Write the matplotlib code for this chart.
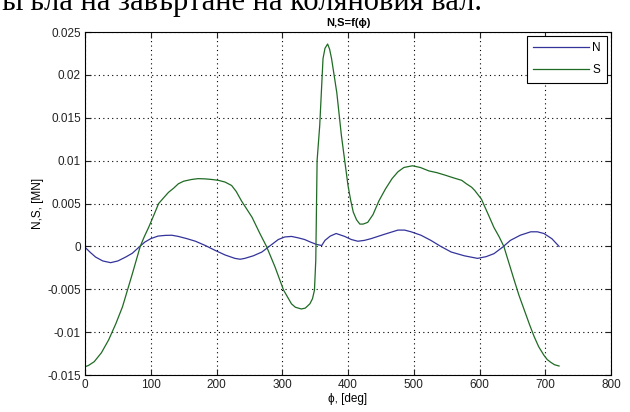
import matplotlib
matplotlib.use("Agg")
import matplotlib.pyplot as plt

# S (green) curve
s_phi = [0, 5, 14, 25, 36, 47, 57, 65, 72, 84, 90, 97, 105, 112, 120, 127, 135, 142, 150,
         162, 172, 183, 193, 203, 213, 223, 230, 238, 254, 266, 276, 289, 302, 314, 320,
         329, 335, 342, 346, 349, 351, 352, 353, 357, 362, 365, 369, 372, 375, 383, 390,
         395, 400, 404, 408, 413, 418, 423, 430, 438, 447, 457, 467, 476, 485, 498, 510,
         523, 535, 548, 560, 573, 580, 588, 593, 598, 603, 607, 614, 622, 630, 637, 645,
         653, 660, 668, 676, 683, 690, 698, 703, 708, 714, 721]
s_val = [-0.01403, -0.0139, -0.01345, -0.0124, -0.0109, -0.0090, -0.00705, -0.0050, -0.0032,
         0.0, 0.0011, 0.00225, 0.0037, 0.005, 0.0057, 0.0063, 0.0068, 0.0073, 0.0076,
         0.0078, 0.0079, 0.00787, 0.0078, 0.0077, 0.0075, 0.0071, 0.0064, 0.0053, 0.0034,
         0.0015, 0.0, -0.0024, -0.0051, -0.0067, -0.0071, -0.0073, -0.0072, -0.0067,
         -0.0061, -0.0051, -0.0016, 0.0042, 0.0100, 0.0141, 0.0219, 0.0231, 0.0236, 0.0230,
         0.0219, 0.0179, 0.0129, 0.0100, 0.0071, 0.0054, 0.0040, 0.0031, 0.0026, 0.0026,
         0.0028, 0.0037, 0.0053, 0.0067, 0.0079, 0.0087, 0.0092, 0.0094, 0.0092, 0.0088,
         0.0086, 0.0083, 0.0080, 0.0077, 0.0073, 0.0069, 0.0065, 0.0060, 0.0055, 0.0048,
         0.0036, 0.0022, 0.0011, 0.0, -0.0020, -0.0040, -0.0057, -0.0074, -0.0091, -0.0105,
         -0.0117, -0.0127, -0.0132, -0.0135, -0.0138, -0.01395]

# N (blue) curve
n_phi = [0, 8, 16, 27, 39, 50, 62, 72, 82, 91, 100, 111, 122, 132, 142, 155, 168, 183,
         198, 213, 228, 236, 243, 256, 269, 282, 294, 304, 314, 324, 334, 343, 352, 360,
         365, 373, 382, 395, 405, 415, 425, 435, 455, 476, 486, 496, 511, 526, 541, 557,
         577, 597, 610, 622, 635, 647, 662, 678, 688, 698, 710, 721]
n_val = [-0.0001, -0.0007, -0.00124, -0.0017, -0.0019, -0.0017, -0.00124, -0.0008, -0.0001,
         0.0005, 0.0009, 0.0012, 0.00128, 0.0013, 0.00116, 0.0009, 0.0006, 0.0001, -0.00047,
         -0.001, -0.0014, -0.0015, -0.0014, -0.0011, -0.00066, 0.0001, 0.0008, 0.0011,
         0.00116, 0.0010, 0.0008, 0.0005, 0.00023, 0.0001, 0.0007, 0.0012, 0.0015, 0.00116,
         0.0008, 0.0006, 0.0007, 0.0009, 0.0014, 0.0019, 0.0019, 0.0017, 0.0013, 0.0007,
         0.0000, -0.00066, -0.0011, -0.0014, -0.0012, -0.00085, -0.0001, 0.0007, 0.0013,
         0.0017, 0.0017, 0.0015, 0.0009, 0.0]

x_ticks = [0, 100, 200, 300, 400, 500, 600, 700, 800]
y_ticks = [-0.015, -0.01, -0.005, 0, 0.005, 0.01, 0.015, 0.02, 0.025]
y_tick_labels = ["-0.015", "-0.01", "-0.005", "0", "0.005", "0.01", "0.015", "0.02", "0.025"]

plt.rcParams['font.family'] = ['Liberation Sans', 'DejaVu Sans']

fig = plt.figure(figsize=(6.30, 4.12), dpi=100)
ax = fig.add_axes([85/630, 1 - 375/412, (611 - 85)/630, (375 - 32)/412])

ax.plot(n_phi, n_val, color='#33339a', lw=0.9, label='N')
ax.plot(s_phi, s_val, color='#1f6b24', lw=0.9, label='S')

ax.set_xlim(0, 800)
ax.set_ylim(-0.015, 0.025)
ax.set_xticks(x_ticks)
ax.set_yticks(y_ticks)
ax.set_yticklabels(y_tick_labels)
ax.tick_params(direction='in', top=True, right=True, labelsize=8.5, length=4, width=0.8,
               colors='#222222', pad=3)
ax.grid(True, linestyle=(0, (1, 3)), color='black', lw=0.8)
for sp in ax.spines.values():
    sp.set_linewidth(0.8)

ax.set_title('N,S=f(ϕ)', fontsize=8, fontweight='bold', pad=4)
ax.set_xlabel('ϕ, [deg]', fontsize=8.5, labelpad=1)
ax.set_ylabel('N,S, [MN]', fontsize=8.5, labelpad=2)

leg = ax.legend(loc='upper right', fontsize=8.5, handlelength=4.7, fancybox=False,
                framealpha=1, edgecolor='black', borderaxespad=0.3, handletextpad=0.3,
                labelspacing=0.85, borderpad=0.55)
leg.get_frame().set_linewidth(0.8)

fig.text(0.0, 1 - 10/412, 'ъгъла на завъртане на коляновия вал.', fontsize=22,
         family=['Liberation Serif', 'DejaVu Serif'], va='baseline', ha='left')

fig.savefig('out.png', dpi=100)
